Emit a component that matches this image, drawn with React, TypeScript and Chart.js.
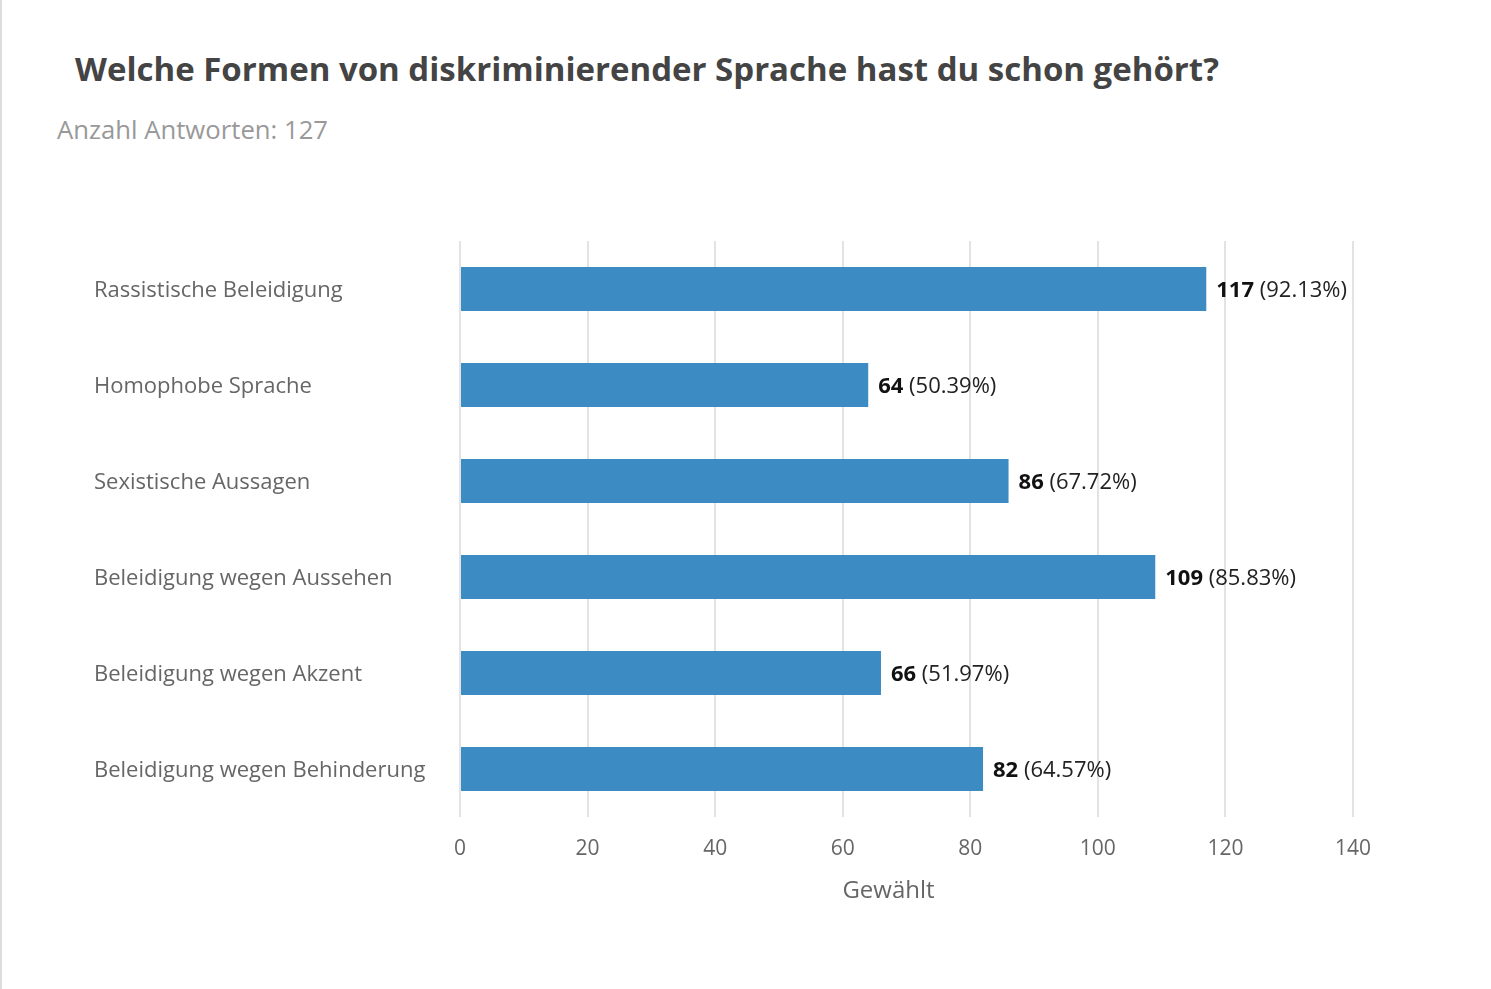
import React, { useEffect, useRef } from 'react';
import Chart from 'chart.js/auto';

const categories = [
  'Rassistische Beleidigung',
  'Homophobe Sprache',
  'Sexistische Aussagen',
  'Beleidigung wegen Aussehen',
  'Beleidigung wegen Akzent',
  'Beleidigung wegen Behinderung',
];
const counts = [117, 64, 86, 109, 66, 82];
const percents = ['92.13', '50.39', '67.72', '85.83', '51.97', '64.57'];
const axisTitle = 'Gewählt';

const FONT = "'Open Sans', sans-serif";

// draws "117 (92.13%)" to the right of each bar
const valueLabels = {
  id: 'valueLabels',
  afterDatasetsDraw(chart: Chart) {
    const ctx = chart.ctx;
    const meta = chart.getDatasetMeta(0);
    ctx.save();
    ctx.textBaseline = 'middle';
    ctx.textAlign = 'left';
    meta.data.forEach((bar: any, i: number) => {
      const x = bar.x + 10;
      const y = bar.y + 2;
      ctx.font = `bold 22px ${FONT}`;
      ctx.fillStyle = '#111';
      const num = String(counts[i]);
      ctx.fillText(num, x, y);
      const w = ctx.measureText(num).width;
      ctx.font = `22px ${FONT}`;
      ctx.fillStyle = '#222';
      ctx.fillText(` (${percents[i]}%)`, x + w, y);
    });
    ctx.restore();
  },
};

// x axis title, sitting a little left of the plot centre like the original
const xTitle = {
  id: 'xTitle',
  afterDraw(chart: Chart) {
    const { ctx, chartArea } = chart;
    ctx.save();
    ctx.font = `24px ${FONT}`;
    ctx.fillStyle = '#666';
    ctx.textAlign = 'center';
    ctx.textBaseline = 'middle';
    ctx.fillText(axisTitle, (chartArea.left + chartArea.right) / 2 - 18, chartArea.bottom + 74);
    ctx.restore();
  },
};

export default function App() {
  const chartRef = useRef<HTMLCanvasElement>(null);
  const chartInstance = useRef<Chart | null>(null);

  useEffect(() => {
    if (!chartRef.current) return;
    if (chartInstance.current) chartInstance.current.destroy();
    const ctx = chartRef.current.getContext('2d');
    if (!ctx) return;

    chartInstance.current = new Chart(ctx, {
      type: 'bar',
      data: {
        labels: categories,
        datasets: [
          {
            data: counts,
            backgroundColor: '#3d8bc3',
            borderWidth: 0,
            barPercentage: 0.46,
            categoryPercentage: 1,
          },
        ],
      },
      options: {
        indexAxis: 'y',
        animation: false,
        responsive: true,
        maintainAspectRatio: false,
        layout: { padding: { left: 94, right: 138, top: 41, bottom: 0 } },
        plugins: {
          legend: { display: false },
          tooltip: { enabled: false },
        },
        scales: {
          x: {
            min: 0,
            max: 140,
            ticks: {
              stepSize: 20,
              padding: 19,
              color: '#666',
              font: { family: FONT, size: 21 },
            },
            grid: { color: '#e3e3e3', lineWidth: 2, drawTicks: false },
            border: { display: false },
            afterFit: (scale: any) => {
              scale.height = 100;
            },
          },
          y: {
            ticks: {
              crossAlign: 'far',
              labelOffset: 2,
              color: '#666',
              font: { family: FONT, size: 22 },
            },
            grid: { display: false },
            border: { display: false },
            afterFit: (scale: any) => {
              scale.width = 366;
            },
          },
        },
      },
      plugins: [valueLabels, xTitle],
    });

    return () => {
      if (chartInstance.current) {
        chartInstance.current.destroy();
        chartInstance.current = null;
      }
    };
  }, []);

  return (
    <div
      style={{
        position: 'absolute',
        top: 0,
        left: 0,
        width: 1491,
        height: 989,
        background: '#fff',
        borderLeft: '2px solid #dcdcdc',
        boxSizing: 'border-box',
        fontFamily: FONT,
      }}
    >
      <div
        style={{
          position: 'absolute',
          left: 73,
          top: 46,
          fontSize: 33,
          fontWeight: 'bold',
          color: '#444',
          whiteSpace: 'nowrap',
        }}
      >
        Welche Formen von diskriminierender Sprache hast du schon gehört?
      </div>
      <div
        style={{
          position: 'absolute',
          left: 55,
          top: 112,
          fontSize: 25.7,
          color: '#999',
          whiteSpace: 'nowrap',
        }}
      >
        Anzahl Antworten: 127
      </div>
      <div style={{ position: 'absolute', left: -2, top: 200, width: 1491, height: 717 }}>
        <canvas ref={chartRef}></canvas>
      </div>
    </div>
  );
}
